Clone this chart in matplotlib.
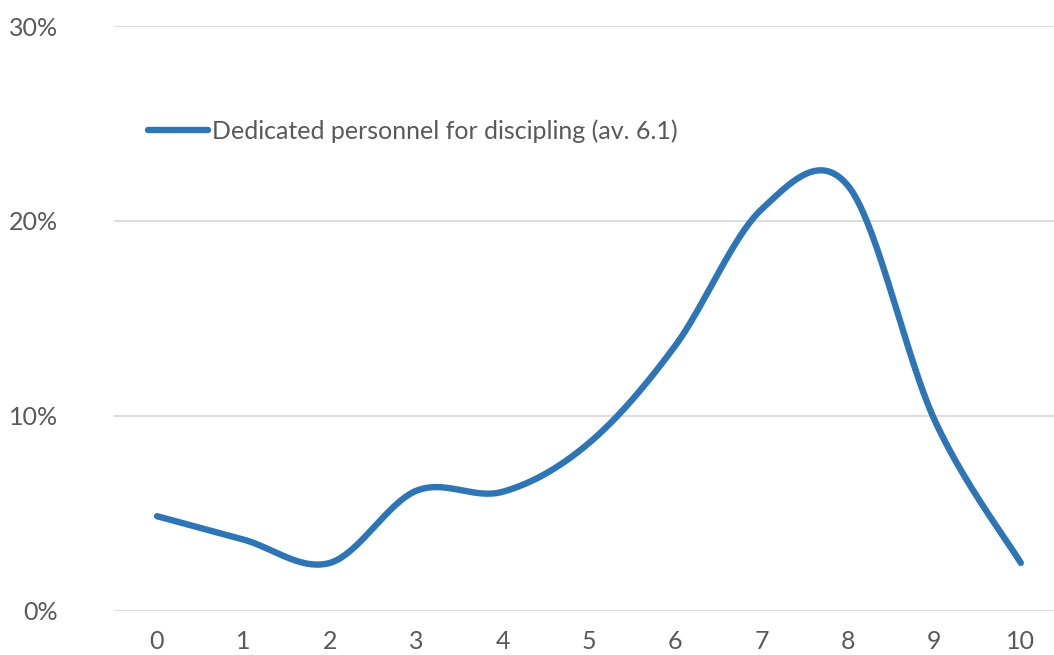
import numpy as np
import matplotlib
matplotlib.use("Agg")
import matplotlib.pyplot as plt
from matplotlib.ticker import FuncFormatter

# Distribution of ratings (0-10) for dedicated discipling personnel
scores = [0, 1, 2, 3, 4, 5, 6, 7, 8, 9, 10]
shares = [4.85, 3.65, 2.45, 6.15, 6.1, 8.6, 13.6, 20.6, 21.8, 9.8, 2.45]
series_label = "Dedicated personnel for discipling (av. 6.1)"
y_ticks = [0, 10, 20, 30]

LINE_COLOR = "#2E75B6"
TEXT_COLOR = "#595959"
GRID_COLOR = "#D9D9D9"

plt.rcParams["font.family"] = ["Lato", "DejaVu Sans"]


def smooth_curve(x, y, steps=40):
    """Cubic Bezier smoothing through every point (Catmull-Rom style)."""
    x = np.asarray(x, float)
    y = np.asarray(y, float)
    px = np.concatenate([[x[0]], x, [x[-1]]])
    py = np.concatenate([[y[0]], y, [y[-1]]])
    xs, ys = [], []
    t = np.linspace(0, 1, steps)
    for i in range(1, len(px) - 2):
        p0 = np.array([px[i], py[i]])
        p3 = np.array([px[i + 1], py[i + 1]])
        p1 = p0 + (np.array([px[i + 1], py[i + 1]]) - np.array([px[i - 1], py[i - 1]])) / 6
        p2 = p3 - (np.array([px[i + 2], py[i + 2]]) - np.array([px[i], py[i]])) / 6
        b = ((1 - t) ** 3)[:, None] * p0 + (3 * (1 - t) ** 2 * t)[:, None] * p1 \
            + (3 * (1 - t) * t ** 2)[:, None] * p2 + (t ** 3)[:, None] * p3
        xs.append(b[:, 0])
        ys.append(b[:, 1])
    return np.concatenate(xs), np.concatenate(ys)


W, H = 1054, 655
fig = plt.figure(figsize=(W / 100, H / 100), dpi=100)
left, right = 113.8 / W, 1064 / W
bottom, top = (H - 610.7) / H, (H - 26) / H
ax = fig.add_axes([left, bottom, right - left, top - bottom])

sx, sy = smooth_curve(scores, shares)
ax.plot(sx, sy, color=LINE_COLOR, lw=4.6, solid_capstyle="round",
        solid_joinstyle="round", label=series_label, zorder=3)

ax.set_xlim(-0.5, 10.5)
ax.set_ylim(0, 30)
ax.set_xticks(scores)
ax.set_xticklabels([str(s) for s in scores])
ax.set_yticks(y_ticks)
ax.yaxis.set_major_formatter(FuncFormatter(lambda v, _: f"{v:.0f}%"))

ax.grid(axis="y", color=GRID_COLOR, lw=1.3)
ax.set_axisbelow(True)
for side in ["top", "right", "left", "bottom"]:
    ax.spines[side].set_visible(False)
ax.tick_params(axis="both", length=0, labelsize=18, colors=TEXT_COLOR)
ax.tick_params(axis="x", pad=14)
ax.tick_params(axis="y", pad=40)

leg = ax.legend(loc="center left", bbox_to_anchor=(0.036, 0.82), frameon=False,
                fontsize=18, handlelength=2.4, handletextpad=0.16,
                borderaxespad=0, borderpad=0)
for txt in leg.get_texts():
    txt.set_color(TEXT_COLOR)

fig.savefig("out.png", dpi=100)
